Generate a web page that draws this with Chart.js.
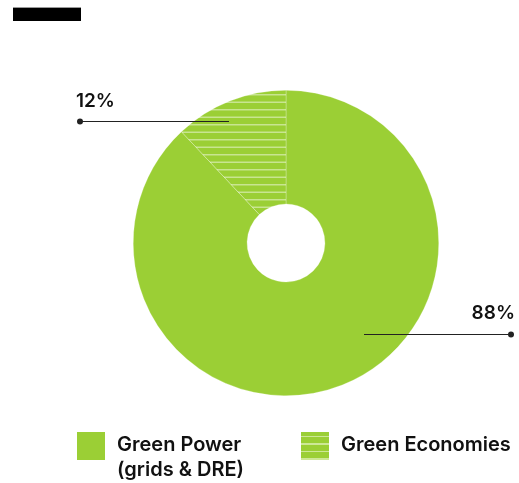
<!DOCTYPE html>
<html>
<head>
<meta charset="utf-8">
<script src="https://cdn.jsdelivr.net/npm/chart.js@4.4.1/dist/chart.umd.min.js"></script>
<style>
  html, body { margin: 0; padding: 0; background: #ffffff; }
  #wrap { position: relative; width: 519px; height: 483px; overflow: hidden; font-family: Inter, "Open Sans", sans-serif; }
  #bar { position: absolute; left: 13px; top: 7px; width: 68px; height: 14px; background: #000; border-top: 1px solid #9a9a9a; box-sizing: border-box; }
  canvas { position: absolute; left: 0; top: 0; }
  .legend { position: absolute; top: 432px; display: flex; align-items: flex-start; }
  .swatch { width: 28px; height: 28px; margin-right: 12px; flex: none; }
  .ltext { font-size: 20px; font-weight: 600; color: #111; line-height: 25px; margin-top: 0px; white-space: nowrap; }
</style>
</head>
<body>
<div id="wrap">
  <div id="bar"></div>
  <canvas id="c" width="519" height="483"></canvas>
  <div id="legend"></div>
</div>
<script>
const labels = ['Green Power\n(grids & DRE)', 'Green Economies'];
const values = [88, 12];
const pctLabels = ['88%', '12%'];

const green = '#9bcf35';

function stripePattern() {
  const t = document.createElement('canvas');
  t.width = 8; t.height = 15;
  const g = t.getContext('2d');
  g.fillStyle = green;
  g.fillRect(0, 0, 8, 15);
  g.fillStyle = 'rgba(255,255,255,0.45)';
  g.fillRect(0, 4, 8, 1.5);
  g.fillRect(0, 11.5, 8, 1.5);
  return g.createPattern(t, 'repeat');
}

const ctx = document.getElementById('c').getContext('2d');
const pattern = stripePattern();
const fills = [green, pattern];

// callout lines + labels, placed relative to the doughnut centre
const callouts = {
  id: 'callouts',
  afterDraw(chart) {
    const arc = chart.getDatasetMeta(0).data[0];
    const cx = arc.x, cy = arc.y;
    const c = chart.ctx;
    c.save();
    c.strokeStyle = '#222';
    c.fillStyle = '#222';
    c.lineWidth = 1;
    // 12% (Green Economies)
    c.beginPath(); c.moveTo(cx - 206, cy - 121.5); c.lineTo(cx - 57, cy - 121.5); c.stroke();
    c.beginPath(); c.arc(cx - 206, cy - 121.5, 3, 0, Math.PI * 2); c.fill();
    // 88% (Green Power)
    c.beginPath(); c.moveTo(cx + 78, cy + 91.5); c.lineTo(cx + 225, cy + 91.5); c.stroke();
    c.beginPath(); c.arc(cx + 225, cy + 91.5, 3, 0, Math.PI * 2); c.fill();
    c.fillStyle = '#111';
    c.font = '600 19px Inter, "Open Sans", sans-serif';
    c.textBaseline = 'middle';
    c.textAlign = 'left';
    c.fillText(pctLabels[1], cx - 210, cy - 142);
    c.textAlign = 'right';
    c.fillText(pctLabels[0], cx + 229, cy + 70);
    c.restore();
  }
};

new Chart(ctx, {
  type: 'doughnut',
  data: {
    labels: labels,
    datasets: [{
      data: values,
      backgroundColor: fills,
      borderWidth: 0.5,
      borderColor: 'rgba(255,255,255,0.5)',
      hoverOffset: 0
    }]
  },
  options: {
    responsive: false,
    animation: false,
    cutout: '25.5%',
    layout: { padding: { left: 133, right: 80, top: 90, bottom: 87 } },
    plugins: {
      legend: { display: false },
      tooltip: { enabled: false }
    }
  },
  plugins: [callouts]
});

// HTML legend built from the labels
const lg = document.getElementById('legend');
const lefts = [77, 301];
labels.forEach((lab, i) => {
  const item = document.createElement('div');
  item.className = 'legend';
  item.style.left = lefts[i] + 'px';
  const sw = document.createElement('div');
  sw.className = 'swatch';
  if (i === 0) {
    sw.style.background = green;
  } else {
    sw.style.background = 'repeating-linear-gradient(to bottom, ' + green + ' 0px, ' + green + ' 4px, rgba(205,232,150,1) 4px, rgba(205,232,150,1) 5.5px, ' + green + ' 5.5px, ' + green + ' 7.5px)';
  }
  const tx = document.createElement('div');
  tx.className = 'ltext';
  tx.innerHTML = lab.replace('&', '&amp;').split('\n').join('<br>');
  item.appendChild(sw);
  item.appendChild(tx);
  lg.appendChild(item);
});
</script>
</body>
</html>
